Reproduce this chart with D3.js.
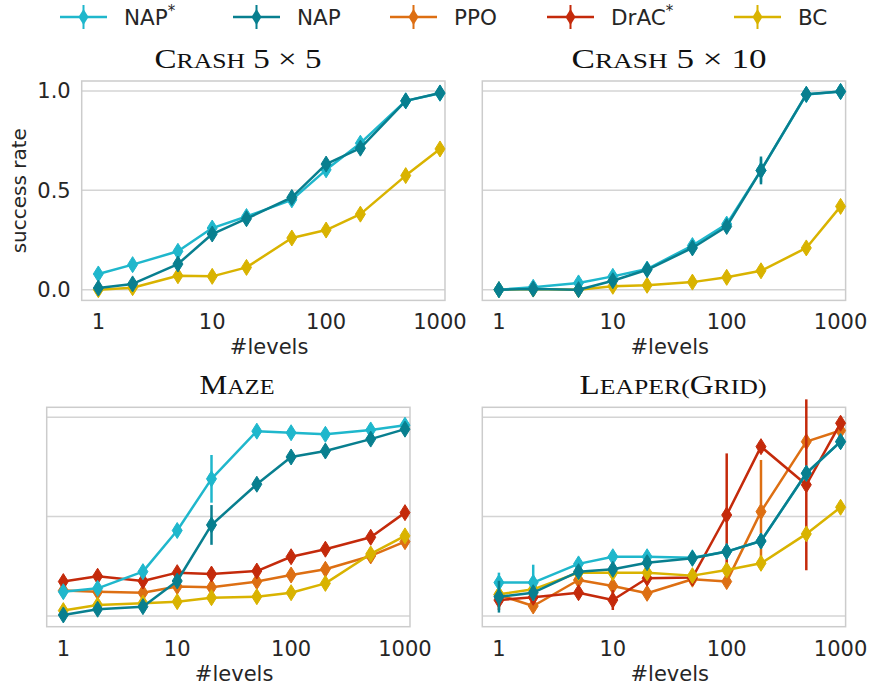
<!DOCTYPE html>
<html>
<head>
<meta charset="utf-8">
<script src="https://cdn.jsdelivr.net/npm/d3@7"></script>
<style>
  body { margin: 0; background: #fff; }
  svg { display: block; }
  .tick-label, .axis-label, .legend-text { font-family: "DejaVu Sans", sans-serif; fill: #262626; }
  .panel-title { font-family: "Liberation Serif", "DejaVu Serif", serif; fill: #111; }
</style>
</head>
<body>
<div id="chart"></div>
<script>
var svgWidth = 872;
var svgHeight = 688;

// Data
var levels = [1, 2, 5, 10, 20, 50, 100, 200, 500, 1000];
var methods = ["NAP*", "NAP", "PPO", "DrAC*", "BC"];
var methodColors = ["#1fb7cc", "#087f8f", "#dd6f13", "#c42a0b", "#d9b300"];
var yTicks = [0, 0.5, 1.0];
var xTicks = [1, 10, 100, 1000];

// series in the order of methods; null = not shown in that panel
var crash5x5Values = [
  [0.079, 0.126, 0.193, 0.310, 0.368, 0.452, 0.603, 0.737, 0.950, 0.988],
  [0.008, 0.029, 0.129, 0.280, 0.357, 0.464, 0.632, 0.712, 0.950, 0.990],
  null,
  null,
  [0.000, 0.010, 0.070, 0.067, 0.112, 0.260, 0.300, 0.380, 0.574, 0.708]
];
var crash5x5Errors = [
  [0.01, 0.01, 0.01, 0.01, 0.01, 0.01, 0.01, 0.01, 0.01, 0.01],
  [0.01, 0.01, 0.01, 0.01, 0.01, 0.01, 0.01, 0.01, 0.01, 0.01],
  null,
  null,
  [0.01, 0.01, 0.01, 0.01, 0.01, 0.01, 0.01, 0.01, 0.01, 0.01]
];

var crash5x10Values = [
  [0.000, 0.012, 0.034, 0.067, 0.104, 0.222, 0.330, 0.600, 0.982, 0.997],
  [0.000, 0.003, 0.000, 0.045, 0.100, 0.210, 0.318, 0.600, 0.983, 0.997],
  null,
  null,
  [0.000, 0.003, 0.000, 0.017, 0.022, 0.038, 0.062, 0.095, 0.210, 0.419]
];
var crash5x10Errors = [
  [0.005, 0.005, 0.005, 0.01, 0.01, 0.01, 0.01, 0.06, 0.01, 0.005],
  [0.005, 0.005, 0.005, 0.01, 0.01, 0.01, 0.01, 0.07, 0.01, 0.005],
  null,
  null,
  [0.005, 0.005, 0.005, 0.005, 0.005, 0.005, 0.01, 0.01, 0.01, 0.01]
];

var mazeValues = [
  [0.122, 0.139, 0.223, 0.430, 0.690, 0.930, 0.922, 0.914, 0.936, 0.960],
  [0.005, 0.034, 0.047, 0.176, 0.458, 0.663, 0.800, 0.830, 0.890, 0.940],
  [0.128, 0.122, 0.117, 0.148, 0.144, 0.173, 0.206, 0.235, 0.302, 0.374],
  [0.173, 0.200, 0.176, 0.218, 0.211, 0.226, 0.298, 0.336, 0.396, 0.520],
  [0.027, 0.055, 0.064, 0.072, 0.092, 0.097, 0.117, 0.164, 0.312, 0.403]
];
var mazeErrors = [
  [0.01, 0.01, 0.03, 0.01, 0.12, 0.01, 0.01, 0.01, 0.01, 0.01],
  [0.01, 0.01, 0.01, 0.01, 0.10, 0.01, 0.01, 0.01, 0.01, 0.01],
  [0.01, 0.01, 0.01, 0.01, 0.01, 0.01, 0.01, 0.01, 0.01, 0.01],
  [0.01, 0.01, 0.01, 0.01, 0.01, 0.01, 0.01, 0.01, 0.01, 0.01],
  [0.01, 0.01, 0.01, 0.01, 0.01, 0.01, 0.01, 0.01, 0.01, 0.01]
];

var leaperValues = [
  [0.168, 0.168, 0.262, 0.298, 0.298, 0.293, 0.324, 0.377, 0.718, 0.877],
  [0.097, 0.117, 0.223, 0.235, 0.268, 0.290, 0.324, 0.377, 0.718, 0.877],
  [0.106, 0.050, 0.181, 0.151, 0.114, 0.185, 0.173, 0.525, 0.877, 0.933],
  [0.080, 0.094, 0.117, 0.080, 0.190, 0.193, 0.508, 0.852, 0.660, 0.970],
  [0.109, 0.134, 0.218, 0.218, 0.218, 0.203, 0.231, 0.265, 0.413, 0.547]
];
var leaperErrors = [
  [0.05, 0.09, 0.01, 0.01, 0.01, 0.01, 0.01, 0.01, 0.01, 0.01],
  [0.08, 0.02, 0.01, 0.01, 0.01, 0.01, 0.01, 0.01, 0.01, 0.01],
  [0.01, 0.02, 0.01, 0.01, 0.03, 0.01, 0.01, 0.26, 0.01, 0.01],
  [0.05, 0.01, 0.01, 0.05, 0.01, 0.04, 0.31, 0.01, 0.43, 0.02],
  [0.01, 0.01, 0.01, 0.01, 0.01, 0.01, 0.01, 0.01, 0.01, 0.01]
];

var panels = [
  { title: ["C", "rash", " 5 × 5"], titleX: 238, titleW: 167, values: crash5x5Values, errors: crash5x5Errors,
    left: 81.7, top: 81, yLabels: true },
  { title: ["C", "rash", " 5 × 10"], titleX: 669, titleW: 195, values: crash5x10Values, errors: crash5x10Errors,
    left: 482.3, top: 81, yLabels: false },
  { title: ["M", "aze"], titleX: 237, titleW: 75, values: mazeValues, errors: mazeErrors,
    left: 46.7, top: 407.3, yLabels: false },
  { title: ["L", "eaper(", "G", "rid)"], titleX: 673, titleW: 187, values: leaperValues, errors: leaperErrors,
    left: 482.3, top: 407.3, yLabels: false }
];

var panelWidth = 363.3;
var panelHeight = 219.4;

// draw order: later ones on top
var drawOrder = [2, 3, 4, 0, 1];

var legendX = [60, 233, 390, 547, 734];

var svg = d3.select("#chart")
  .append("svg")
  .attr("width", svgWidth)
  .attr("height", svgHeight);

// thin diamond marker
function diamond(cx, cy) {
  var w = 5, h = 8;
  return `M${cx},${cy - h}L${cx + w},${cy}L${cx},${cy + h}L${cx - w},${cy}Z`;
}

panels.forEach(function(p) {
  var xScale = d3.scaleLog()
    .domain([Math.pow(10, -0.146), Math.pow(10, 3.044)])
    .range([0, panelWidth]);
  var yScale = d3.scaleLinear()
    .domain([-0.054, 1.05])
    .range([panelHeight, 0]);

  var g = svg.append("g")
    .attr("transform", `translate(${p.left}, ${p.top})`);

  // gridlines
  g.selectAll(".grid")
    .data(yTicks)
    .enter()
    .append("line")
    .attr("x1", 0)
    .attr("x2", panelWidth)
    .attr("y1", d => yScale(d))
    .attr("y2", d => yScale(d))
    .attr("stroke", "#d4d4d4")
    .attr("stroke-width", 1.5);

  // frame
  g.append("rect")
    .attr("width", panelWidth)
    .attr("height", panelHeight)
    .attr("fill", "none")
    .attr("stroke", "#cccccc")
    .attr("stroke-width", 1.5);

  var line = d3.line()
    .x(d => xScale(d[0]))
    .y(d => yScale(d[1]));

  drawOrder.forEach(function(m) {
    var vals = p.values[m];
    if (!vals) return;
    var errs = p.errors[m];
    var pts = levels.map((lv, i) => [lv, vals[i], errs[i]]);
    var color = methodColors[m];

    var sg = g.append("g");

    sg.append("path")
      .datum(pts)
      .attr("d", line)
      .attr("fill", "none")
      .attr("stroke", color)
      .attr("stroke-width", 2.5)
      .attr("stroke-linejoin", "round");

    sg.selectAll(".err")
      .data(pts)
      .enter()
      .append("line")
      .attr("x1", d => xScale(d[0]))
      .attr("x2", d => xScale(d[0]))
      .attr("y1", d => yScale(d[1] - d[2]))
      .attr("y2", d => yScale(d[1] + d[2]))
      .attr("stroke", color)
      .attr("stroke-width", 2.5);

    sg.selectAll(".mark")
      .data(pts)
      .enter()
      .append("path")
      .attr("d", d => diamond(xScale(d[0]), yScale(d[1])))
      .attr("fill", color)
      .attr("stroke", color)
      .attr("stroke-width", 1);
  });

  // x tick labels
  g.selectAll(".xtick")
    .data(xTicks)
    .enter()
    .append("text")
    .attr("class", "tick-label")
    .attr("x", d => xScale(d))
    .attr("y", panelHeight + 29)
    .attr("text-anchor", "middle")
    .attr("font-size", "21px")
    .text(d => d);

  g.append("text")
    .attr("class", "axis-label")
    .attr("x", xScale(31.6))
    .attr("y", panelHeight + 54)
    .attr("text-anchor", "middle")
    .attr("font-size", "21px")
    .text("#levels");

  if (p.yLabels) {
    g.selectAll(".ytick")
      .data(yTicks)
      .enter()
      .append("text")
      .attr("class", "tick-label")
      .attr("x", -11)
      .attr("y", d => yScale(d) + 7.5)
      .attr("text-anchor", "end")
      .attr("font-size", "21px")
      .text(d => d.toFixed(1));

    g.append("text")
      .attr("class", "axis-label")
      .attr("transform", `translate(${19 - p.left + 7}, ${panelHeight / 2}) rotate(-90)`)
      .attr("text-anchor", "middle")
      .attr("font-size", "20px")
      .text("success rate");
  }

  // title with small caps
  var t = svg.append("text")
    .attr("class", "panel-title")
    .attr("x", p.titleX)
    .attr("y", p.top - 13)
    .attr("text-anchor", "middle")
    .attr("font-size", "27px")
    .attr("textLength", p.titleW)
    .attr("lengthAdjust", "spacingAndGlyphs");
  p.title.forEach(function(part) {
    var isWord = /[a-z]/.test(part);
    t.append("tspan")
      .attr("font-size", isWord ? "21px" : "27px")
      .text(isWord ? part.toUpperCase() : part);
  });
});

// legend
var legend = svg.append("g").attr("transform", "translate(0, 17)");
methods.forEach(function(name, i) {
  var item = legend.append("g").attr("transform", `translate(${legendX[i]}, 0)`);
  item.append("line")
    .attr("x1", 0).attr("x2", 47)
    .attr("y1", 0).attr("y2", 0)
    .attr("stroke", methodColors[i])
    .attr("stroke-width", 2.5);
  item.append("line")
    .attr("x1", 23.5).attr("x2", 23.5)
    .attr("y1", -12).attr("y2", 12)
    .attr("stroke", methodColors[i])
    .attr("stroke-width", 2);
  item.append("path")
    .attr("d", diamond(23.5, 0))
    .attr("fill", methodColors[i]);
  var txt = item.append("text")
    .attr("class", "legend-text")
    .attr("x", 64)
    .attr("y", 8)
    .attr("font-size", "21.5px");
  var base = name.replace("*", "");
  txt.append("tspan").text(base);
  if (name.indexOf("*") >= 0) {
    txt.append("tspan")
      .attr("font-size", "15px")
      .attr("dy", -9)
      .text("*");
  }
});
</script>
</body>
</html>
